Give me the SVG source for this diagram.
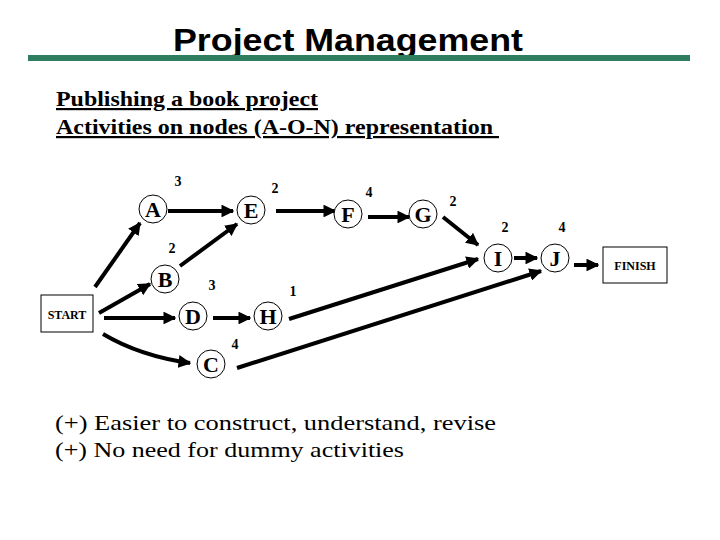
<svg xmlns="http://www.w3.org/2000/svg" width="720" height="540" viewBox="0 0 720 540">
<defs><marker id="ah" viewBox="0 0 10 10" refX="9" refY="5" markerWidth="3.2" markerHeight="3.2" orient="auto" markerUnits="strokeWidth"><path d="M0,0 L10,5 L0,10 Z" fill="#000"/></marker></defs>
<style>
.n{fill:#fff;stroke:#000;stroke-width:1}
.l{font-family:"Liberation Serif",serif;font-weight:bold;font-size:22px;text-anchor:middle}
.d{font-family:"Liberation Serif",serif;font-weight:bold;font-size:14px;text-anchor:middle}
.c path,.c line{stroke:#000;stroke-width:4;fill:none;marker-end:url(#ah)}
.t{font-family:"Liberation Serif",serif;font-size:22px}
.s{font-family:"Liberation Serif",serif;font-weight:bold;font-size:22px;text-decoration:underline}
</style>
<rect width="720" height="540" fill="#fff"/>
<text x="173" y="51" font-family="Liberation Sans,sans-serif" font-weight="bold" font-size="32" textLength="350" lengthAdjust="spacingAndGlyphs">Project Management</text>
<rect x="28" y="55" width="662" height="6" fill="#2e7d5e"/>
<text class="s" x="56" y="106" textLength="262" lengthAdjust="spacingAndGlyphs">Publishing a book project</text>
<text class="s" x="56" y="134" textLength="443" lengthAdjust="spacingAndGlyphs" xml:space="preserve">Activities on nodes (A-O-N) representation </text>
<g class="c" id="connectors">
<line x1="95" y1="287" x2="140" y2="223"/>
<line x1="168" y1="211" x2="233" y2="211"/>
<line x1="180" y1="266" x2="237" y2="224"/>
<line x1="276" y1="211" x2="335" y2="211"/>
<line x1="368" y1="217" x2="409" y2="217"/>
<line x1="443" y1="217" x2="478" y2="245"/>
<line x1="289" y1="319" x2="478" y2="259"/>
<line x1="237" y1="368" x2="541" y2="271"/>
<line x1="99" y1="313" x2="150" y2="284"/>
<line x1="104" y1="318" x2="175" y2="318"/>
<line x1="213" y1="318" x2="250" y2="318"/>
<path d="M103,334 Q140,356 190,363"/>
<line x1="514" y1="258" x2="537" y2="258"/>
<line x1="574" y1="265" x2="598" y2="265"/>
</g>
<g id="START"><rect class="n" x="41" y="295" width="52" height="37"/><text x="67" y="319" font-family="Liberation Serif,serif" font-weight="bold" font-size="12" text-anchor="middle">START</text></g>
<g id="FINISH"><rect class="n" x="603" y="247" width="64" height="36"/><text x="635" y="270" font-family="Liberation Serif,serif" font-weight="bold" font-size="12" text-anchor="middle">FINISH</text></g>
<g id="A"><circle class="n" cx="153" cy="209" r="14"/><text class="l" x="153" y="217">A</text><text class="d" x="178" y="186">3</text></g>
<g id="E"><circle class="n" cx="251" cy="210" r="14"/><text class="l" x="251" y="218">E</text><text class="d" x="275" y="193">2</text></g>
<g id="F"><circle class="n" cx="348" cy="214" r="14"/><text class="l" x="348" y="222">F</text><text class="d" x="369" y="197">4</text></g>
<g id="G"><circle class="n" cx="423" cy="214" r="14"/><text class="l" x="423" y="222">G</text><text class="d" x="453" y="206">2</text></g>
<g id="I"><circle class="n" cx="498" cy="258" r="14"/><text class="l" x="498" y="266">I</text><text class="d" x="505" y="232">2</text></g>
<g id="J"><circle class="n" cx="555" cy="258" r="14"/><text class="l" x="555" y="266">J</text><text class="d" x="562" y="232">4</text></g>
<g id="B"><circle class="n" cx="165" cy="279" r="14"/><text class="l" x="165" y="287">B</text><text class="d" x="172" y="253">2</text></g>
<g id="D"><circle class="n" cx="193" cy="316" r="14"/><text class="l" x="193" y="324">D</text><text class="d" x="212" y="290">3</text></g>
<g id="H"><circle class="n" cx="268" cy="316" r="14"/><text class="l" x="268" y="324">H</text><text class="d" x="293" y="296">1</text></g>
<g id="C"><circle class="n" cx="211" cy="364" r="14"/><text class="l" x="211" y="372">C</text><text class="d" x="235" y="349">4</text></g>
<text class="t" x="55" y="430" textLength="441" lengthAdjust="spacingAndGlyphs">(+) Easier to construct, understand, revise</text>
<text class="t" x="55" y="457" textLength="349" lengthAdjust="spacingAndGlyphs">(+) No need for dummy activities</text>
</svg>
